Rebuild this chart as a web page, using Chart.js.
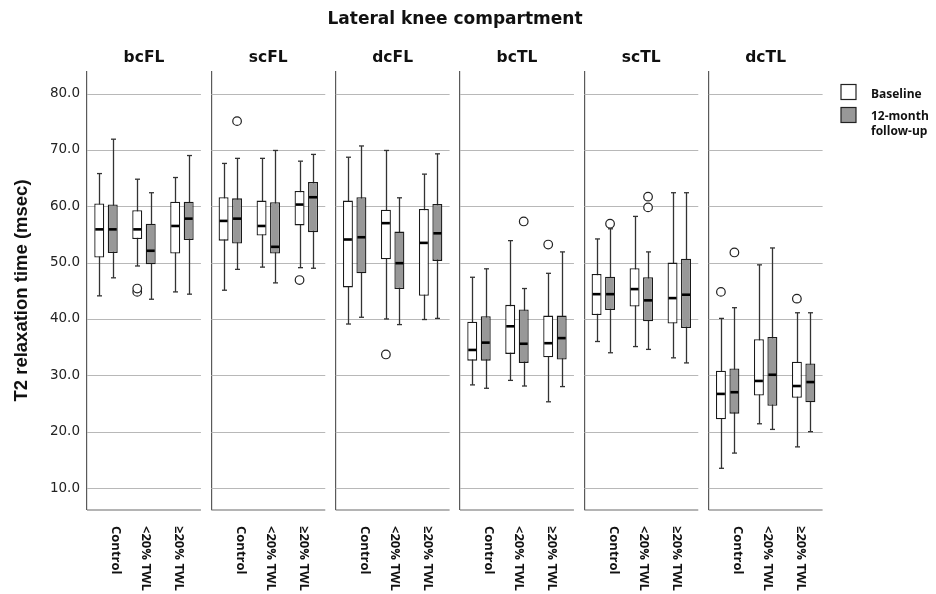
<!DOCTYPE html>
<html>
<head>
<meta charset="utf-8">
<script src="https://cdn.jsdelivr.net/npm/chart.js@4.4.1/dist/chart.umd.min.js"></script>
<style>
  html, body { margin: 0; padding: 0; background: #fff; }
</style>
</head>
<body>
<canvas id="chart" width="936" height="594"></canvas>
<script>
const chartTitle = 'Lateral knee compartment';
const panels = ['bcFL', 'scFL', 'dcFL', 'bcTL', 'scTL', 'dcTL'];
const groups = ['Control', '<20% TWL', '\u226520% TWL'];
const seriesNames = ['Baseline', '12-month follow-up'];
const yTicks = [10, 20, 30, 40, 50, 60, 70, 80];

// [min, q1, median, q3, max] for every panel x group, in order
const baseline = [
  [44.1, 50.9, 55.9, 60.5, 65.8], [49.4, 54.2, 55.9, 59.3, 64.8], [44.8, 51.6, 56.5, 60.8, 65.1],
  [45.1, 53.9, 57.4, 61.6, 67.6], [49.2, 54.8, 56.5, 61.0, 68.5], [49.1, 56.6, 60.3, 62.7, 68.0],
  [39.1, 45.6, 54.1, 61.0, 68.7], [40.0, 50.6, 57.0, 59.4, 69.9], [39.9, 44.1, 53.5, 59.5, 65.7],
  [28.3, 32.6, 34.5, 39.5, 47.4], [29.1, 33.8, 38.7, 42.5, 53.9], [25.3, 33.2, 35.7, 40.6, 48.1],
  [36.0, 40.7, 44.4, 48.0, 54.2], [35.1, 42.2, 45.3, 49.0, 58.2], [33.1, 39.2, 43.7, 50.0, 62.4],
  [13.5, 22.2, 26.7, 30.8, 40.1], [21.4, 26.4, 29.0, 36.4, 49.6], [17.3, 26.0, 28.1, 32.4, 41.1]
];
const followUp = [
  [47.3, 51.7, 55.9, 60.3, 71.9], [43.5, 49.7, 52.1, 56.9, 62.4], [44.4, 54.0, 57.8, 60.8, 69.0],
  [48.8, 53.4, 57.8, 61.4, 68.5], [46.4, 51.6, 52.8, 60.7, 69.9], [49.0, 55.4, 61.6, 64.3, 69.2],
  [40.3, 48.1, 54.5, 61.6, 70.7], [39.0, 45.3, 49.9, 55.5, 61.5], [40.1, 50.3, 55.2, 60.4, 69.3],
  [27.7, 32.6, 35.8, 40.5, 48.9], [28.1, 32.2, 35.6, 41.7, 45.4], [28.0, 32.8, 36.6, 40.6, 51.9],
  [34.0, 41.6, 44.4, 47.5, 56.0], [34.6, 39.6, 43.3, 47.4, 51.9], [32.2, 38.4, 44.3, 50.7, 62.4],
  [16.2, 23.2, 27.0, 31.2, 42.0], [20.4, 24.6, 30.1, 36.8, 52.6], [20.0, 25.2, 28.8, 32.1, 41.1]
];
const baselineOutliers = [
  [], [44.8, 45.4], [],
  [], [], [46.9],
  [], [33.7], [],
  [], [], [53.2],
  [], [], [],
  [44.8], [], [43.6]
];
const followUpOutliers = [
  [], [], [],
  [75.1], [], [],
  [], [], [],
  [], [57.3], [],
  [56.9], [59.8, 61.7], [],
  [51.8], [], []
];

const PANEL_W = 3.2737;           // panel pitch, in group widths
const xPos = i => Math.floor(i / 3) * PANEL_W + 0.5 + (i % 3);
const labelShift = [10, 2, -3];

function line(ctx, x0, y0, x1, y1) {
  ctx.beginPath(); ctx.moveTo(x0, y0); ctx.lineTo(x1, y1); ctx.stroke();
}

const boxplotPlugin = {
  id: 'boxplot',
  beforeDatasetsDraw(chart) {
    const {ctx, chartArea, scales: {x, y}} = chart;
    ctx.save();
    ctx.lineWidth = 1.2;
    panels.forEach((_, p) => {
      const x0 = x.getPixelForValue(p * PANEL_W);
      const x1 = x.getPixelForValue(p * PANEL_W + 3);
      ctx.strokeStyle = '#b8b8b8';
      yTicks.forEach(v => { const py = Math.round(y.getPixelForValue(v)) + 0.5; line(ctx, x0, py, x1, py); });
      ctx.strokeStyle = '#6a6a6a';
      line(ctx, x0, chartArea.bottom, x1, chartArea.bottom);
    });
    // whiskers
    chart.data.datasets.forEach((ds, d) => {
      chart.getDatasetMeta(d).data.forEach((el, i) => {
        const s = ds.stats[i];
        const cx = Math.round(el.x) + 0.5;
        ctx.strokeStyle = '#333'; ctx.lineWidth = 1.3;
        line(ctx, cx, y.getPixelForValue(s[0]), cx, y.getPixelForValue(s[4]));
        [s[0], s[4]].forEach(v => { const py = y.getPixelForValue(v); line(ctx, cx - 2.5, py, cx + 2.5, py); });
      });
    });
    ctx.restore();
  },
  afterDatasetsDraw(chart) {
    const {ctx, scales: {y}} = chart;
    ctx.save();
    chart.data.datasets.forEach((ds, d) => {
      chart.getDatasetMeta(d).data.forEach((el, i) => {
        const s = ds.stats[i];
        const py = y.getPixelForValue(s[2]);
        ctx.strokeStyle = '#000'; ctx.lineWidth = 2.6;
        line(ctx, el.x - el.width / 2 + 1, py, el.x + el.width / 2 - 1, py);
        ctx.lineWidth = 1.2; ctx.strokeStyle = '#222'; ctx.fillStyle = '#fff';
        ds.outliers[i].forEach(v => {
          ctx.beginPath();
          ctx.arc(el.x, y.getPixelForValue(v), 4.3, 0, Math.PI * 2);
          ctx.fill(); ctx.stroke();
        });
      });
    });
    ctx.restore();
  },
  afterDraw(chart) {
    const {ctx, chartArea, scales: {x}} = chart;
    ctx.save();
    ctx.fillStyle = '#111';
    ctx.textAlign = 'center';
    ctx.textBaseline = 'alphabetic';
    ctx.font = 'bold 17px "DejaVu Sans"';
    ctx.fillText(chartTitle, 455, 23.5);
    ctx.font = 'bold 15.5px "DejaVu Sans"';
    panels.forEach((name, p) => {
      ctx.fillText(name, x.getPixelForValue(p * PANEL_W + 1.5), 61.5);
    });
    // rotated category labels
    ctx.font = 'bold 13px "Open Sans"';
    ctx.textAlign = 'left';
    ctx.textBaseline = 'middle';
    for (let i = 0; i < panels.length * groups.length; i++) {
      const g = i % 3;
      ctx.save();
      ctx.translate(x.getPixelForValue(xPos(i)) + labelShift[g], chartArea.bottom + 16);
      ctx.rotate(Math.PI / 2);
      ctx.fillText(groups[g], 0, 0);
      ctx.restore();
    }
    // legend
    const lx = chartArea.right + 8;
    ctx.lineWidth = 1.2; ctx.strokeStyle = '#222';
    ctx.font = 'bold 12px "Open Sans"';
    ctx.textBaseline = 'middle';
    chart.data.datasets.forEach((ds, d) => {
      const top = 84.5 + d * 23;
      ctx.fillStyle = ds.backgroundColor;
      ctx.fillRect(lx, top, 15, 15);
      ctx.strokeRect(lx, top, 15, 15);
    });
    ctx.fillStyle = '#111';
    ctx.fillText('Baseline', lx + 30, 95);
    ctx.fillText('12-month', lx + 30, 116.5);
    ctx.fillText('follow-up', lx + 30, 131.5);
    ctx.restore();
  }
};

const boxData = rows => rows.map((r, i) => ({x: xPos(i), y: [r[1], r[3]]}));

new Chart(document.getElementById('chart'), {
  type: 'bar',
  data: {
    datasets: [
      {label: seriesNames[0], data: boxData(baseline), stats: baseline, outliers: baselineOutliers,
       backgroundColor: '#ffffff', borderColor: '#1a1a1a', borderWidth: 1.3, borderSkipped: false},
      {label: seriesNames[1], data: boxData(followUp), stats: followUp, outliers: followUpOutliers,
       backgroundColor: '#989898', borderColor: '#1a1a1a', borderWidth: 1.3, borderSkipped: false}
    ]
  },
  options: {
    responsive: false,
    animation: false,
    categoryPercentage: 0.71,
    barPercentage: 0.74,
    layout: {padding: {top: 71, right: 103, left: 0, bottom: 0}},
    plugins: {legend: {display: false}, tooltip: {enabled: false}},
    scales: {
      x: {
        type: 'linear', min: 0, max: 6 * PANEL_W, offset: false,
        afterBuildTicks: s => { s.ticks = panels.map((_, p) => ({value: p * PANEL_W})); },
        afterFit: s => { s.height = 84; },
        ticks: {display: false, autoSkip: false},
        grid: {color: '#5a5a5a', lineWidth: 1.2, drawTicks: false, offset: false},
        border: {display: false}
      },
      y: {
        min: 6.1, max: 84,
        afterFit: s => { s.width = 87; },
        ticks: {stepSize: 10, includeBounds: false, padding: 7, color: '#222',
                font: {family: 'DejaVu Sans', size: 13.5},
                callback: v => v.toFixed(1)},
        grid: {display: false, drawTicks: false},
        border: {display: false},
        title: {display: true, text: 'T2 relaxation time (msec)', color: '#111',
                font: {family: 'Liberation Sans', size: 18.5, weight: 'bold'},
                padding: {top: 11, bottom: 0}}
      }
    }
  },
  plugins: [boxplotPlugin]
});
</script>
</body>
</html>
